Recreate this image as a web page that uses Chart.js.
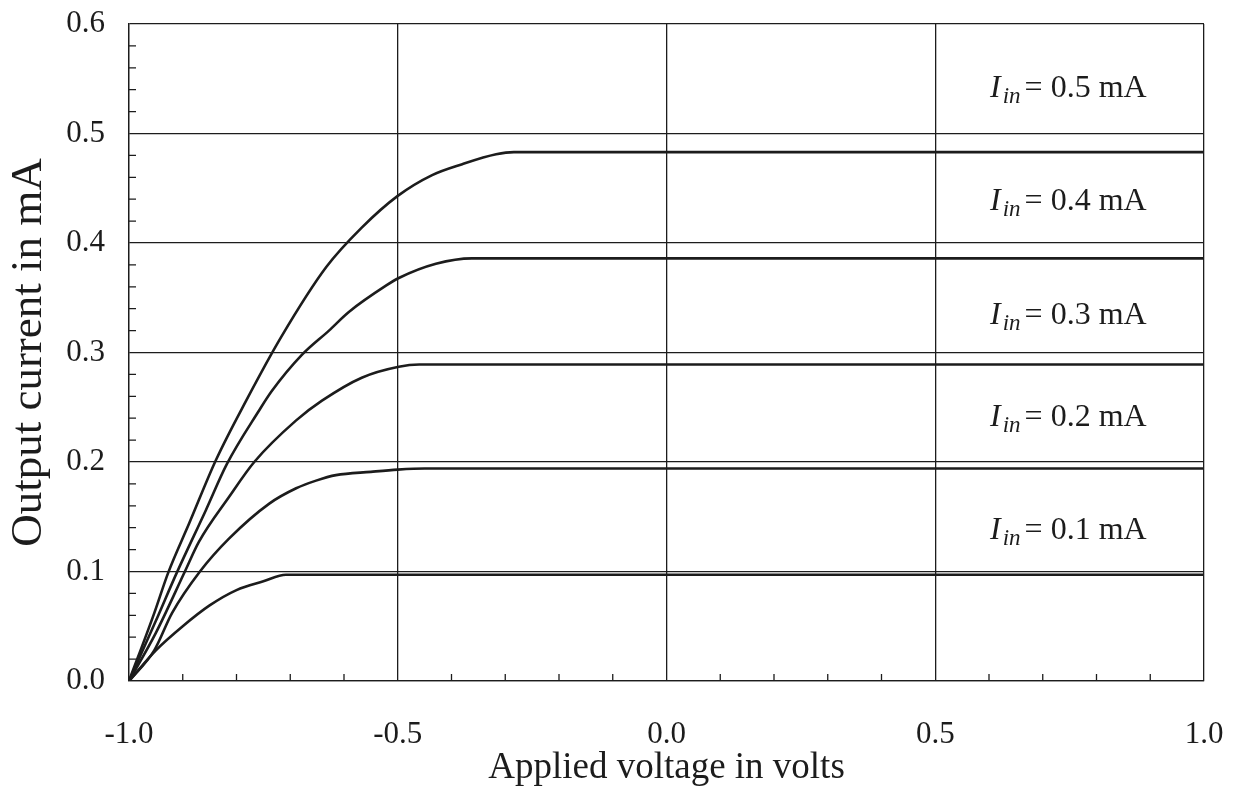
<!DOCTYPE html>
<html>
<head>
<meta charset="utf-8">
<script src="https://cdn.jsdelivr.net/npm/chart.js@4"></script>
<style>
  html, body { margin: 0; padding: 0; background: #fff; }
  #wrap { width: 1234px; height: 790px; }
</style>
</head>
<body>
<div id="wrap"><canvas id="chart" width="1234" height="790"></canvas></div>
<script>
// applied voltage (V) and output current (mA), one pair of arrays per curve
const v01 = [-1.0, -0.95, -0.9, -0.85, -0.8, -0.75, -0.708, 1.0];
const i01 = [0, 0.028, 0.05, 0.069, 0.083, 0.091, 0.097, 0.097];

const v02 = [-1.0, -0.953, -0.92, -0.868, -0.814, -0.739, -0.689, -0.652, -0.615, -0.55, -0.5, -0.45, 1.0];
const i02 = [0, 0.028, 0.062, 0.1, 0.13, 0.162, 0.176, 0.183, 0.188, 0.191, 0.193, 0.194, 0.194];

const v03 = [-1.0, -0.95, -0.896, -0.87, -0.814, -0.767, -0.689, -0.641, -0.567, -0.498, -0.46, 1.0];
const i03 = [0, 0.044, 0.1, 0.127, 0.168, 0.2, 0.238, 0.256, 0.277, 0.287, 0.289, 0.289];

const v04 = [-1.0, -0.95, -0.911, -0.857, -0.818, -0.758, -0.734, -0.678, -0.628, -0.591, -0.522, -0.498, -0.429, -0.362, 1.0];
const i04 = [0, 0.055, 0.099, 0.156, 0.198, 0.247, 0.265, 0.298, 0.32, 0.337, 0.361, 0.368, 0.381, 0.386, 0.386];

const v05 = [-1.0, -0.953, -0.927, -0.888, -0.838, -0.782, -0.717, -0.633, -0.567, -0.5, -0.436, -0.38, -0.317, -0.284, 1.0];
const i05 = [0, 0.062, 0.099, 0.144, 0.202, 0.256, 0.314, 0.378, 0.414, 0.443, 0.462, 0.472, 0.481, 0.483, 0.483];

const curveV = [v01, v02, v03, v04, v05];
const curveI = [i01, i02, i03, i04, i05];

// curve labels
const labelText = ["0.1 mA", "0.2 mA", "0.3 mA", "0.4 mA", "0.5 mA"];
const labelX = [0.602, 0.602, 0.602, 0.602, 0.602];
const labelY = [0.130, 0.233, 0.326, 0.430, 0.533];

const xMinor = [-0.9, -0.8, -0.7, -0.6, -0.4, -0.3, -0.2, -0.1, 0.1, 0.2, 0.3, 0.4, 0.6, 0.7, 0.8, 0.9];
const yMinor = [];
for (let k = 1; k < 30; k++) if (k % 5 !== 0) yMinor.push(k * 0.02);

const serif = "'Liberation Serif', 'DejaVu Serif', serif";
const ink = "#1c1c1c";

const datasets = curveV.map((xs, n) => ({
  data: xs.map((x, i) => ({ x: x, y: curveI[n][i] })),
  borderColor: ink,
  borderWidth: 2.6,
  pointRadius: 0,
  cubicInterpolationMode: "monotone",
  fill: false
}));

const extras = {
  id: "extras",
  afterDatasetsDraw(chart) {
    const c = chart.ctx;
    const xs = chart.scales.x, ys = chart.scales.y;
    const a = chart.chartArea;
    c.save();
    c.strokeStyle = ink;
    c.lineWidth = 1.3;
    c.beginPath();
    xMinor.forEach(v => {
      const px = xs.getPixelForValue(v);
      c.moveTo(px, a.bottom);
      c.lineTo(px, a.bottom - 7);
    });
    yMinor.forEach(v => {
      const py = ys.getPixelForValue(v);
      c.moveTo(a.left, py);
      c.lineTo(a.left + 7, py);
    });
    c.stroke();

    c.fillStyle = ink;
    c.textBaseline = "alphabetic";
    labelText.forEach((t, i) => {
      let px = xs.getPixelForValue(labelX[i]);
      const py = ys.getPixelForValue(labelY[i]);
      c.font = "italic 32px " + serif;
      c.fillText("I", px, py);
      px += c.measureText("I").width + 2;
      c.font = "italic 23px " + serif;
      c.fillText("in", px, py + 6);
      px += c.measureText("in").width + 4;
      c.font = "32px " + serif;
      c.fillText("= " + t, px, py);
    });
    c.restore();
  }
};

new Chart(document.getElementById("chart"), {
  type: "line",
  data: { datasets: datasets },
  options: {
    responsive: false,
    animation: false,
    layout: { padding: { left: 0, right: 30, top: 24, bottom: 0 } },
    plugins: { legend: { display: false }, tooltip: { enabled: false } },
    scales: {
      x: {
        type: "linear",
        min: -1,
        max: 1,
        afterFit: s => { s.height = 109; s.paddingLeft = 0; s.paddingRight = 0; },
        ticks: {
          stepSize: 0.5,
          color: ink,
          padding: 35,
          font: { family: serif, size: 31 },
          callback: v => v.toFixed(1)
        },
        grid: { color: ink, lineWidth: 1.3, drawTicks: false },
        border: { color: ink, width: 1.3 },
        title: {
          display: true,
          text: "Applied voltage in volts",
          color: ink,
          font: { family: serif, size: 37 },
          padding: { top: 0, bottom: 0 }
        }
      },
      y: {
        min: 0,
        max: 0.6,
        afterFit: s => { s.width = 129; s.paddingTop = 0; s.paddingBottom = 0; },
        ticks: {
          stepSize: 0.1,
          color: ink,
          padding: 24,
          font: { family: serif, size: 31 },
          callback: v => v.toFixed(1)
        },
        grid: { color: ink, lineWidth: 1.3, drawTicks: false },
        border: { color: ink, width: 1.3 },
        title: {
          display: true,
          text: "Output current in mA",
          color: ink,
          font: { family: serif, size: 45 },
          padding: { top: 2, bottom: 0 }
        }
      }
    }
  },
  plugins: [extras]
});
</script>
</body>
</html>
